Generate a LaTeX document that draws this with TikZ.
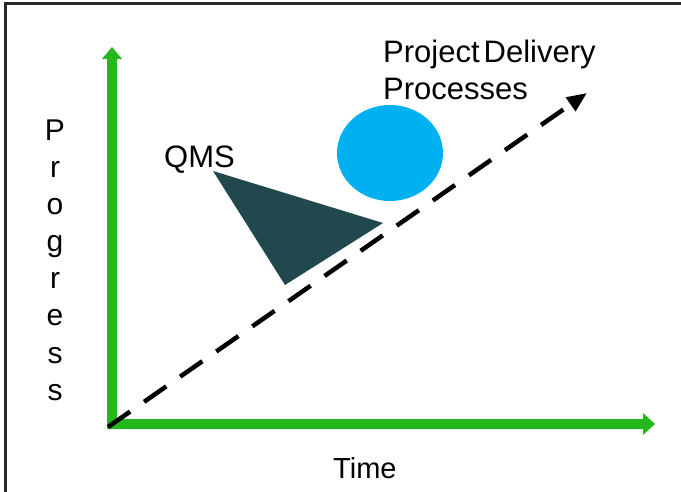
\documentclass[tikz,border=0pt]{standalone}
\usepackage{fontspec}
\setmainfont{Liberation Sans}
\usetikzlibrary{arrows.meta,shapes.geometric}
\definecolor{axisgreen}{RGB}{34,184,30}
\definecolor{qmsteal}{RGB}{33,73,77}
\definecolor{pdpblue}{RGB}{0,176,240}
\definecolor{framegray}{RGB}{40,40,40}
\begin{document}
\begin{tikzpicture}[x=1pt,y=-1pt,
  lbl/.style={font=\fontsize{31}{37}\selectfont, inner sep=0pt, anchor=base west, text=black},
  timelbl/.style={font=\fontsize{29}{37}\selectfont, inner sep=0pt, anchor=base west, text=black},
  letter/.style={font=\fontsize{30}{37}\selectfont, inner sep=0pt, anchor=base, text=black},
  trend/.style={line width=4.5pt, dash pattern=on 27pt off 17pt, -{Triangle[length=20pt,width=16pt]}}]
\useasboundingbox (0,0) rectangle (681,492);
% frame
\fill[framegray] (4,2) rectangle (681,5);
\fill[framegray] (4,2) rectangle (7,492);
% axes (block arrows)
\fill[axisgreen] (107,429) -- (107,59) -- (102,59) -- (112,47) -- (122,59) -- (117,59)
  -- (117,419) -- (643,419) -- (643,413) -- (655,424) -- (643,435) -- (643,429) -- cycle;
% shapes
\node[ellipse, fill=pdpblue, minimum width=106pt, minimum height=96pt, inner sep=0pt] (pdp) at (390,153) {};
\fill[qmsteal] (213,171) -- (383,223) -- (285,285) -- cycle;
% dashed trend arrow
\coordinate (origin) at (108,427);
\coordinate (dtip) at (587,93);
\draw[trend] (origin) -- (dtip);
% labels
\node[lbl] (pdplabel1) at (383,63) {Project\kern4pt Delivery};
\node[lbl] (pdplabel2) at (383,100) {Processes};
\node[lbl] (qmslabel) at (164,168) {QMS};
\node[timelbl] (timelabel) at (333,478) {Time};
\foreach \ch [count=\i from 0] in {P,r,o,g,r,e,s,s}{
  \node[letter] (prog\i) at (55,{141+37*\i}) {\ch};
}
\end{tikzpicture}
\end{document}
